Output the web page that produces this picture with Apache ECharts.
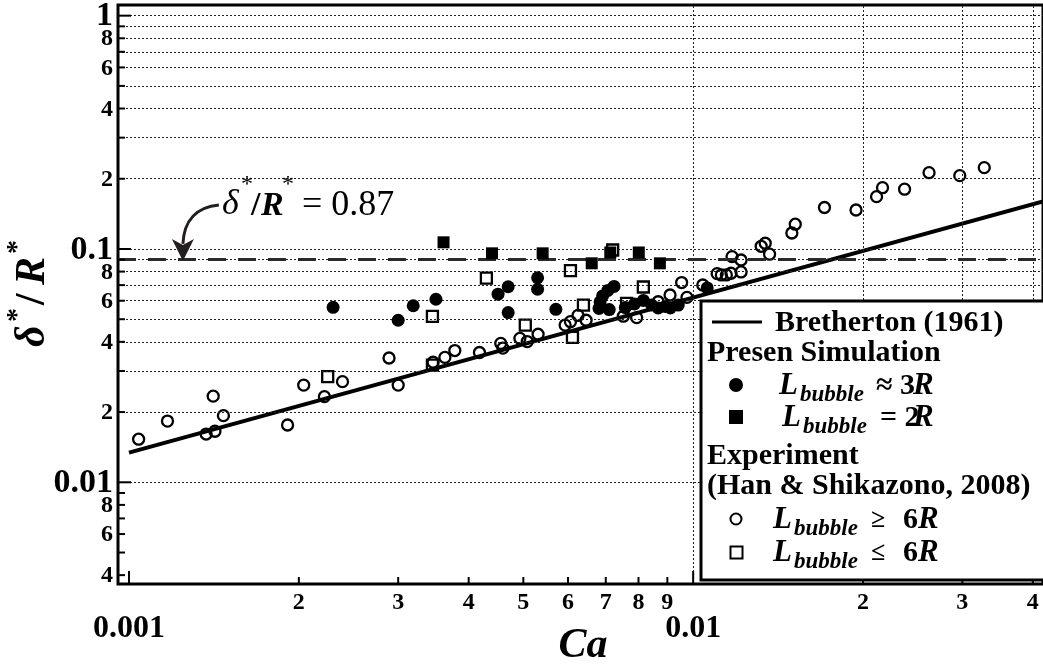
<!DOCTYPE html>
<html><head><meta charset="utf-8">
<script src="https://cdn.jsdelivr.net/npm/echarts@6/dist/echarts.min.js"></script>
<style>html,body{margin:0;padding:0;background:#fff}#c{width:1043px;height:665px}</style>
</head><body><div id="c"></div>
<script>
// ---- axis ranges ----
const X_MIN = 0.000956, X_MAX = 0.0417;
const Y_MIN = 0.003665, Y_MAX = 1.111;

// ---- tick values and labels ----
const X_TICKS = [0.001,0.002,0.003,0.004,0.005,0.006,0.007,0.008,0.009,0.01,0.02,0.03,0.04];
const X_TICK_LABELS = ['0.001','2','3','4','5','6','7','8','9','0.01','2','3','4'];
const X_MAJOR = [0.001, 0.01];
const Y_TICKS = [0.004,0.005,0.006,0.007,0.008,0.009,0.01,0.02,0.03,0.04,0.05,0.06,0.07,0.08,0.09,0.1,0.2,0.3,0.4,0.5,0.6,0.7,0.8,0.9,1];
const Y_TICK_LABELS = ['4','','6','','8','','0.01','2','','4','','6','','8','','0.1','2','','4','','6','','8','','1'];
const Y_MAJOR = [0.01, 0.1, 1];

// ---- data ----
const brethertonLine = [[0.001,0.0134],[0.0417,0.160]];
const refValue = 0.088;      // dashed line delta*/R*
const refArrowCa = 0.001246; // where the annotation arrow points

// Experiment (Han & Shikazono 2008), L_bubble >= 6R : [Ca, delta/R]
const expLong = [[0.00104,0.0153],[0.00117,0.0183],[0.00137,0.0161],[0.00142,0.01655],[0.00141,0.0234],[0.00147,0.0193],[0.00191,0.0176],[0.00204,0.0261],[0.00222,0.0233],[0.00239,0.0270],[0.00289,0.0341],[0.0030,0.0261],[0.00346,0.0327],[0.00363,0.0343],[0.00378,0.0367],[0.00418,0.0360],[0.00456,0.0394],[0.0046,0.0376],[0.00493,0.0414],[0.00508,0.0401],[0.00531,0.0431],[0.00593,0.0472],[0.00606,0.0488],[0.00625,0.0519],[0.00646,0.0495],[0.00752,0.0515],[0.00794,0.0508],[0.00867,0.0594],[0.0091,0.0635],[0.00954,0.0718],[0.00975,0.0620],[0.0104,0.0701],[0.01103,0.0784],[0.01122,0.0774],[0.01145,0.0774],[0.01167,0.0787],[0.01172,0.0927],[0.01216,0.0897],[0.01216,0.0797],[0.01320,0.1027],[0.01342,0.1058],[0.01366,0.0950],[0.01496,0.1171],[0.01517,0.1277],[0.01709,0.1506],[0.01944,0.1469],[0.02114,0.1676],[0.02166,0.1831],[0.02370,0.1804],[0.02619,0.2123],[0.02969,0.2062],[0.03281,0.2231]];
// Experiment, L_bubble <= 6R
const expShort = [[0.00225,0.0284],[0.00345,0.0514],[0.00345,0.0318],[0.0043,0.0750],[0.00504,0.0472],[0.00606,0.0807],[0.00611,0.0418],[0.00639,0.0575],[0.0072,0.0990],[0.00762,0.0585],[0.00816,0.0687]];
// Present simulation, L_bubble ~ 3R
const sim3R = [[0.0023,0.0562],[0.0030,0.0495],[0.00319,0.0571],[0.0035,0.0609],[0.00451,0.0640],[0.0047,0.0689],[0.0047,0.0534],[0.0053,0.0753],[0.0053,0.0672],[0.00571,0.0551],[0.00724,0.0691],[0.00706,0.0664],[0.00691,0.0629],[0.00684,0.0593],[0.00681,0.0556],[0.0071,0.0550],[0.00758,0.0561],[0.00787,0.0581],[0.00816,0.0602],[0.00844,0.0575],[0.00867,0.0559],[0.00892,0.0567],[0.00911,0.0559],[0.00941,0.0575],[0.01059,0.0681]];
// Present simulation, L_bubble = 2R
const sim2R = [[0.00361,0.1068],[0.0044,0.0958],[0.00541,0.0958],[0.00661,0.0868],[0.00713,0.0966],[0.00801,0.0966],[0.00873,0.0868]];

const SERIF = '"Liberation Serif","Times New Roman",serif';
const GRID_STYLE = {color:'#222', width:1, type:[2,2]};

const option = {
  animation: false,
  backgroundColor: '#fff',
  grid: {left:118, top:5, width:928, height:579, show:true, borderColor:'#000', borderWidth:3, backgroundColor:'transparent'},
  xAxis: {type:'log', logBase:10, min:X_MIN, max:X_MAX, axisLine:{show:false}, axisTick:{show:false}, axisLabel:{show:false}, splitLine:{show:false}},
  yAxis: {type:'log', logBase:10, min:Y_MIN, max:Y_MAX, axisLine:{show:false}, axisTick:{show:false}, axisLabel:{show:false}, splitLine:{show:false}},
  series: [
    {type:'line', name:'grid', data:[], z:1, silent:true,
     markLine:{silent:true, symbol:['none','none'], label:{show:false}, lineStyle:GRID_STYLE, emphasis:{disabled:true},
       data: X_TICKS.map(v=>({xAxis:v})).concat(Y_TICKS.map(v=>({yAxis:v})))}},
    {type:'line', name:'ref', data:[], z:2, silent:true,
     markLine:{silent:true, symbol:['none','none'], label:{show:false}, emphasis:{disabled:true},
       lineStyle:{color:'#2a2a2a', width:3, type:[18,12]}, data:[{yAxis:refValue}]}},
    {type:'line', name:'Bretherton (1961)', data:brethertonLine, showSymbol:false, symbol:'none', z:3,
     lineStyle:{color:'#000', width:4}},
    {type:'scatter', name:'exp long', data:expLong, symbol:'circle', symbolSize:11, z:4,
     itemStyle:{color:'rgba(0,0,0,0)', borderColor:'#000', borderWidth:2.3, opacity:1}},
    {type:'scatter', name:'exp short', data:expShort, symbol:'rect', symbolSize:11, z:4,
     itemStyle:{color:'rgba(0,0,0,0)', borderColor:'#000', borderWidth:2.3, opacity:1}},
    {type:'scatter', name:'sim 3R', data:sim3R, symbol:'circle', symbolSize:13, z:5,
     itemStyle:{color:'#000', opacity:1}},
    {type:'scatter', name:'sim 2R', data:sim2R, symbol:'rect', symbolSize:12, z:5,
     itemStyle:{color:'#000', opacity:1}},
    {type:'custom', name:'xticks', clip:false, silent:true, z:6,
     data: X_TICKS.map(v=>[v, Y_MIN]), encode:{x:0,y:1},
     renderItem: function(params, api){
       const i = params.dataIndex;
       const p = api.coord([api.value(0), api.value(1)]);
       const major = X_MAJOR.indexOf(X_TICKS[i]) >= 0;
       const ch = [{type:'line', shape:{x1:p[0],y1:p[1],x2:p[0],y2:p[1]-(major?13:7)}, style:{stroke:'#000', lineWidth:2}}];
       const lab = X_TICK_LABELS[i];
       if (lab) ch.push({type:'text', x:p[0], y:p[1]+(major?45:19),
         style:{text:lab, font:'bold '+(major?32:24)+'px '+SERIF, fill:'#000', align:'center', verticalAlign:'middle'}});
       return {type:'group', children:ch};
     }},
    {type:'custom', name:'yticks', clip:false, silent:true, z:6,
     data: Y_TICKS.map(v=>[X_MIN, v]), encode:{x:0,y:1},
     renderItem: function(params, api){
       const i = params.dataIndex;
       const p = api.coord([api.value(0), api.value(1)]);
       const major = Y_MAJOR.indexOf(Y_TICKS[i]) >= 0;
       const ch = [{type:'line', shape:{x1:p[0],y1:p[1],x2:p[0]+(major?13:7),y2:p[1]}, style:{stroke:'#000', lineWidth:2}}];
       const lab = Y_TICK_LABELS[i];
       if (lab) ch.push({type:'text', x:p[0]-5, y:p[1]+1,
         style:{text:lab, font:'bold '+(major?34:24)+'px '+SERIF, fill:'#000', align:'right', verticalAlign:'middle'}});
       return {type:'group', children:ch};
     }}
  ]
};

const chart = echarts.init(document.getElementById('c'), null, {renderer:'canvas'});
chart.setOption(option);

function txt(x, y, s, font, extra){
  return Object.assign({type:'text', x:x, y:y, z:101, silent:true,
    style:{text:s, font:font, fill:'#000', align:'left', verticalAlign:'middle'}}, extra||{});
}
const FB = 'bold 30px '+SERIF, FBI = 'italic bold 31px '+SERIF, FSUB = 'italic bold 23px '+SERIF, FREL = 'bold 26px '+SERIF;

const tip = chart.convertToPixel({gridIndex:0}, [refArrowCa, refValue]);
const tx = tip[0], ty = tip[1];

function ytxt(x, y, s, font){
  return {type:'text', x:x, y:y, style:{text:s, font:font, fill:'#000', align:'left', verticalAlign:'middle'}};
}
const YF = 'italic bold 42px '+SERIF;

const graphics = [
  // legend box
  {type:'rect', z:100, silent:true, shape:{x:701, y:301, width:360, height:279}, style:{fill:'#fff', stroke:'#000', lineWidth:3}},
  {type:'line', z:101, silent:true, shape:{x1:712,y1:322,x2:762,y2:322}, style:{stroke:'#000', lineWidth:3}},
  txt(775,323,'Bretherton (1961)',FB),
  txt(707,353,'Presen Simulation',FB),
  {type:'circle', z:101, silent:true, shape:{cx:736, cy:385, r:7}, style:{fill:'#000'}},
  txt(779,386,'L',FBI), txt(800,395,'bubble',FSUB), txt(876,386,'\u2248 3',FB), txt(913,386,'R',FBI),
  {type:'rect', z:101, silent:true, shape:{x:729, y:410, width:14, height:14}, style:{fill:'#000'}},
  txt(782,418,'L',FBI), txt(803,427,'bubble',FSUB), txt(880,418,'= 2',FB), txt(913,418,'R',FBI),
  txt(707,456,'Experiment',FB),
  txt(707,486,'(Han & Shikazono, 2008)',FB),
  {type:'circle', z:101, silent:true, shape:{cx:736, cy:519, r:5.5}, style:{fill:'none', stroke:'#000', lineWidth:2}},
  txt(773,520,'L',FBI), txt(794,529,'bubble',FSUB), txt(871,520,'\u2265',FREL), txt(903,520,'6',FB), txt(918,520,'R',FBI),
  {type:'rect', z:101, silent:true, shape:{x:730.5, y:546.5, width:12, height:12}, style:{fill:'none', stroke:'#000', lineWidth:2}},
  txt(773,553,'L',FBI), txt(794,562,'bubble',FSUB), txt(871,553,'\u2264',FREL), txt(903,553,'6',FB), txt(918,553,'R',FBI),
  // axis titles
  {type:'text', z:101, silent:true, x:583, y:646, style:{text:'Ca', font:'italic bold 42px '+SERIF, fill:'#000', align:'center', verticalAlign:'middle'}},
  {type:'group', x:33, y:292, rotation:Math.PI/2, z:101, silent:true, children:[
    ytxt(-55, 0, '\u03b4', YF),
    ytxt(-30, -15, '*', 'bold 28px '+SERIF),
    ytxt(-13, 0, '/', 'bold 42px '+SERIF),
    ytxt(7, 0, 'R', YF),
    ytxt(38, -15, '*', 'bold 28px '+SERIF)
  ]},
  // annotation
  {type:'text', z:101, silent:true, x:tx+39, y:ty-57, style:{text:'\u03b4', font:'italic 36px '+SERIF, fill:'#000', align:'left', verticalAlign:'middle'}},
  {type:'text', z:101, silent:true, x:tx+58, y:ty-77, style:{text:'*', font:'24px '+SERIF, fill:'#000', align:'left', verticalAlign:'middle'}},
  {type:'text', z:101, silent:true, x:tx+68, y:ty-56, style:{text:'/', font:'bold 34px '+SERIF, fill:'#000', align:'left', verticalAlign:'middle'}},
  {type:'text', z:101, silent:true, x:tx+78, y:ty-56, style:{text:'R', font:'italic bold 34px '+SERIF, fill:'#000', align:'left', verticalAlign:'middle'}},
  {type:'text', z:101, silent:true, x:tx+99, y:ty-77, style:{text:'*', font:'24px '+SERIF, fill:'#000', align:'left', verticalAlign:'middle'}},
  {type:'text', z:101, silent:true, x:tx+119, y:ty-56, style:{text:'= 0.87', font:'36px '+SERIF, fill:'#000', align:'left', verticalAlign:'middle'}},
  {type:'bezierCurve', z:101, silent:true, shape:{x1:tx+36, y1:ty-57, cpx1:tx+14, cpy1:ty-55, cpx2:tx+1, cpy2:ty-42, x2:tx, y2:ty-18},
   style:{stroke:'#231f20', lineWidth:3, fill:'none'}},
  {type:'polygon', z:101, silent:true, shape:{points:[[tx,ty-1],[tx-11,ty-23],[tx,ty-17],[tx+11,ty-23]]}, style:{fill:'#231f20'}}
];
chart.setOption({graphic: graphics});
</script>
</body></html>
